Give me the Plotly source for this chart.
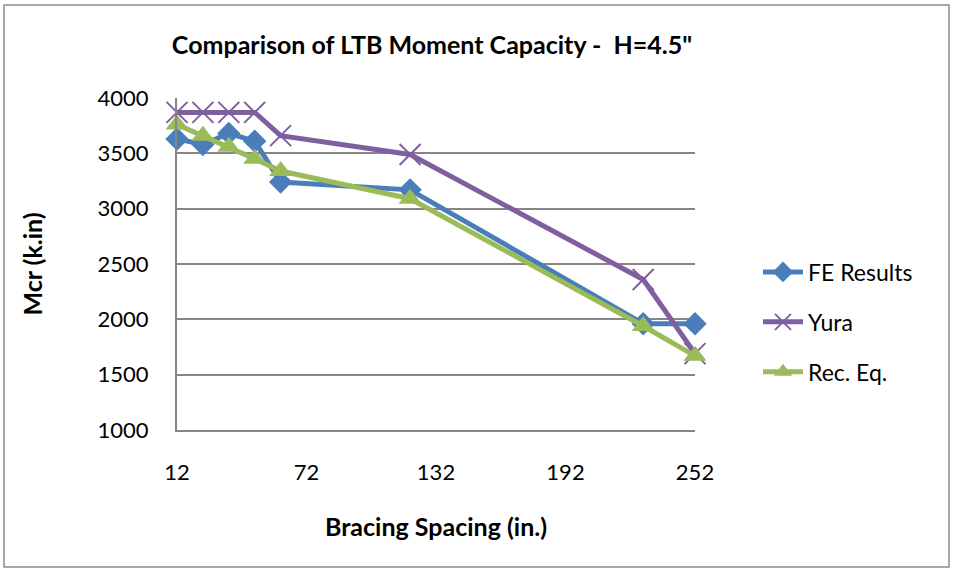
import plotly.graph_objects as go

# Bracing spacing (in.) and LTB moment capacity (k.in)
spacing_fe = [12, 24, 36, 48, 60, 120, 228, 252]
fe_results = [3630, 3580, 3680, 3610, 3240, 3170, 1960, 1960]

spacing_yura = [12, 24, 36, 48, 60, 120, 228, 252]
yura = [3870, 3870, 3870, 3870, 3660, 3490, 2360, 1690]

spacing_rec = [12, 24, 36, 48, 60, 120, 228, 252]
rec_eq = [3760, 3660, 3560, 3450, 3340, 3090, 1940, 1670]

x_ticks = [12, 72, 132, 192, 252]
y_ticks = [1000, 1500, 2000, 2500, 3000, 3500, 4000]

W, H = 955, 571
ML, MR, MT, MB = 177, 260, 98, 141
FONT = "Lato, 'Open Sans', sans-serif"

fig = go.Figure()
fig.add_trace(go.Scatter(
    x=spacing_fe, y=fe_results, name="FE Results", mode="lines+markers",
    legendgroup="fe",
    line=dict(color="#4A7EBB", width=5),
    marker=dict(symbol="diamond", size=18, color="#4A7EBB"),
    cliponaxis=False,
))
fig.add_trace(go.Scatter(
    x=spacing_yura, y=yura, name="Yura", mode="lines+markers",
    legendgroup="yura",
    line=dict(color="#7F5FA0", width=5),
    marker=dict(symbol="x-thin-open", size=21, color="#7F5FA0",
                line=dict(color="#7F5FA0", width=2)),
    cliponaxis=False,
))
fig.add_trace(go.Scatter(
    x=spacing_rec, y=rec_eq, name="Rec. Eq.", mode="lines+markers",
    legendgroup="rec",
    line=dict(color="#9BBB59", width=5),
    marker=dict(symbol="triangle-up", size=20, color="#9BBB59"),
    cliponaxis=False,
))

pw = W - ML - MR
ph = H - MT - MB
# outer chart border
fig.add_shape(
    type="rect", xref="paper", yref="paper",
    x0=(4 - ML) / pw, x1=(949 - ML) / pw,
    y0=(H - MB - 567) / ph, y1=(H - MB - 5) / ph,
    line=dict(color="#8C8C8C", width=1.5), fillcolor="rgba(0,0,0,0)",
    layer="below",
)

fig.update_layout(
    width=W, height=H,
    margin=dict(l=ML, r=MR, t=MT, b=MB),
    paper_bgcolor="white", plot_bgcolor="white",
    font=dict(family=FONT, size=22, color="black"),
    title=dict(
        text="<b>Comparison of LTB Moment Capacity -  H=4.5\"</b>",
        x=432 / W, xanchor="center", y=1 - 45 / H, yanchor="middle",
        font=dict(size=25, family=FONT),
    ),
    legend=dict(
        x=(758 - ML) / pw, xanchor="left",
        y=(H - MB - 322) / ph, yanchor="middle",
        font=dict(size=23), itemwidth=40, tracegroupgap=17,
        bgcolor="rgba(0,0,0,0)",
    ),
    xaxis=dict(
        range=[12, 252], tickvals=x_ticks, ticktext=[str(v) for v in x_ticks],
        showgrid=False, zeroline=False, showline=True,
        linecolor="#868686", linewidth=2, ticks="",
        ticklabelstandoff=22, tickfont=dict(size=22),
        title=dict(text="<b>Bracing Spacing (in.)</b>", standoff=34,
                   font=dict(size=25)),
    ),
    yaxis=dict(
        range=[1000, 4000], tickvals=y_ticks,
        showgrid=True, gridcolor="#868686", gridwidth=1.5,
        zeroline=False, showline=True, linecolor="#868686", linewidth=2,
        ticks="", ticklabelstandoff=22, tickfont=dict(size=22),
        title=dict(text="<b>Mcr (k.in)</b>", standoff=48, font=dict(size=25)),
    ),
)

fig.write_html("out.html")
